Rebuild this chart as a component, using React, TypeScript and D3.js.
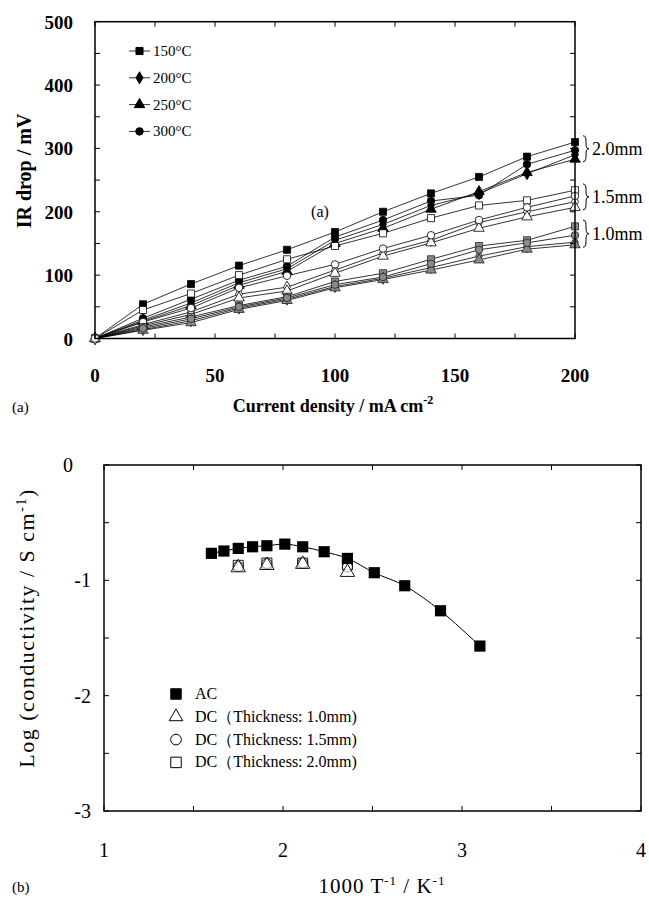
import React from 'react';
import * as d3 from 'd3';

// ---------- Chart (a): IR drop vs current density ----------
const currentDensity = [0, 20, 40, 60, 80, 100, 120, 140, 160, 180, 200];
const temperatures = ['150°C', '200°C', '250°C', '300°C'];

// thickness 2.0 mm (filled markers)
const t20_150 = [0, 54, 86, 115, 140, 168, 200, 229, 255, 287, 310];
const t20_200 = [0, 29, 56, 88, 110, 155, 180, 210, 229, 260, 290];
const t20_250 = [0, 27, 52, 84, 106, 150, 174, 204, 232, 262, 283];
const t20_300 = [0, 32, 62, 92, 114, 160, 187, 217, 226, 275, 297];
// thickness 1.5 mm (open markers)
const t15_150 = [0, 45, 71, 100, 125, 146, 166, 190, 210, 218, 234];
const t15_200 = [0, 22, 42, 70, 81, 108, 135, 155, 183, 200, 216];
const t15_250 = [0, 20, 38, 64, 75, 103, 130, 151, 174, 192, 207];
const t15_300 = [0, 26, 48, 80, 99, 117, 142, 163, 187, 207, 225];
// thickness 1.0 mm (grey markers)
const t10_150 = [0, 18, 34, 52, 66, 90, 103, 125, 146, 155, 177];
const t10_200 = [0, 14, 28, 48, 62, 82, 95, 112, 130, 145, 152];
const t10_250 = [0, 13, 25, 46, 60, 80, 93, 108, 124, 141, 148];
const t10_300 = [0, 16, 31, 50, 64, 85, 97, 118, 140, 151, 163];

const xTicksA = [0, 50, 100, 150, 200];
const yTicksA = [0, 100, 200, 300, 400, 500];

// ---------- Chart (b): Arrhenius plot ----------
const acInvT = [1.60, 1.67, 1.75, 1.83, 1.91, 2.01, 2.11, 2.23, 2.36, 2.51, 2.68, 2.88, 3.10];
const acLogSigma = [-0.766, -0.746, -0.723, -0.709, -0.700, -0.686, -0.709, -0.752, -0.810, -0.934, -1.047, -1.264, -1.570];
const dcInvT = [1.75, 1.91, 2.11, 2.36];
const dc10LogSigma = [-0.89, -0.87, -0.86, -0.93];
const dc15LogSigma = [-0.88, -0.855, -0.85, -0.885];
const dc20LogSigma = [-0.87, -0.85, -0.85, -0.865];
const legendB = ['AC', 'DC（Thickness: 1.0mm)', 'DC（Thickness: 1.5mm)', 'DC（Thickness: 2.0mm)'];

const xTicksB = [1, 2, 3, 4];
const yTicksB = [0, -1, -2, -3];

const SERIF = "'Liberation Serif', 'DejaVu Serif', 'Times New Roman', serif";

const symType: Record<string, d3.SymbolType> = {
  '150°C': d3.symbolSquare,
  '200°C': d3.symbolDiamond,
  '250°C': d3.symbolTriangle,
  '300°C': d3.symbolCircle,
};
const symSize: Record<string, number> = {
  '150°C': 50,
  '200°C': 42,
  '250°C': 48,
  '300°C': 44,
};

function brace(x: number, y1: number, y2: number, w: number) {
  const m = (y1 + y2) / 2;
  return `M${x},${y1} C${x + w},${y1} ${x},${m} ${x + w},${m} C${x},${m} ${x + w},${y2} ${x},${y2}`;
}

const bold = { fontFamily: SERIF, fontWeight: 700 } as React.CSSProperties;
const reg = { fontFamily: SERIF, fontWeight: 400 } as React.CSSProperties;

function ChartA() {
  const x = d3.scaleLinear().domain([0, 200]).range([95, 575]);
  const y = d3.scaleLinear().domain([0, 500]).range([338.5, 21.7]);
  const line = d3.line<number>().x((_, i) => x(currentDensity[i])).y((d) => y(d));

  const groups = [
    { th: '2.0mm', fill: '#000', stroke: '#000', data: { '150°C': t20_150, '200°C': t20_200, '250°C': t20_250, '300°C': t20_300 } },
    { th: '1.5mm', fill: '#fff', stroke: '#000', data: { '150°C': t15_150, '200°C': t15_200, '250°C': t15_250, '300°C': t15_300 } },
    { th: '1.0mm', fill: '#8a8a8a', stroke: '#222', data: { '150°C': t10_150, '200°C': t10_200, '250°C': t10_250, '300°C': t10_300 } },
  ];

  const xMinor = d3.range(0, 201, 25);
  const yMinor = d3.range(0, 501, 50);
  const [x0, x1] = x.range();
  const [y0, y1] = y.range();
  const tl = 5;

  return (
    <g>
      {groups.map((g) =>
        temperatures.map((t) => (
          <path key={g.th + t} d={line((g.data as any)[t]) || ''} fill="none" stroke="#000" strokeWidth={0.8} />
        ))
      )}
      {groups.map((g) =>
        temperatures.map((t) =>
          ((g.data as any)[t] as number[]).map((v, i) => (
            <path
              key={g.th + t + i}
              d={d3.symbol().type(symType[t]).size(symSize[t])() || ''}
              transform={`translate(${x(currentDensity[i])},${y(v)})`}
              fill={i === 0 ? '#fff' : g.fill}
              stroke={g.stroke}
              strokeWidth={0.8}
            />
          ))
        )
      )}
      <rect x={x0} y={y1} width={x1 - x0} height={y0 - y1} fill="none" stroke="#000" strokeWidth={1.5} />
      {xMinor.map((v) => (
        <g key={'xm' + v}>
          <line x1={x(v)} x2={x(v)} y1={y0} y2={y0 - tl} stroke="#000" strokeWidth={1} />
          <line x1={x(v)} x2={x(v)} y1={y1} y2={y1 + tl} stroke="#000" strokeWidth={1} />
        </g>
      ))}
      {yMinor.map((v) => (
        <g key={'ym' + v}>
          <line x1={x0} x2={x0 + tl} y1={y(v)} y2={y(v)} stroke="#000" strokeWidth={1} />
          <line x1={x1} x2={x1 - tl} y1={y(v)} y2={y(v)} stroke="#000" strokeWidth={1} />
        </g>
      ))}
      {xTicksA.map((v) => (
        <text key={'xl' + v} x={x(v)} y={382} textAnchor="middle" style={bold} fontSize={19}>
          {v}
        </text>
      ))}
      {yTicksA.map((v) => (
        <text key={'yl' + v} x={73} y={y(v) + 7} textAnchor="end" style={bold} fontSize={19}>
          {v}
        </text>
      ))}
      <text x={333} y={412} textAnchor="middle" style={bold} fontSize={18}>
        Current density / mA cm<tspan dy={-8} fontSize={12}>-2</tspan>
      </text>
      <text x={12} y={412} style={reg} fontSize={15}>(a)</text>
      <text transform={`translate(31,171) rotate(-90)`} textAnchor="middle" style={bold} fontSize={20}>
        IR drop / mV
      </text>
      <text x={320} y={217} textAnchor="middle" style={reg} fontSize={16}>(a)</text>
      {temperatures.map((t, i) => {
        const ly = 51 + i * 26.8;
        return (
          <g key={'lg' + t}>
            <line x1={129} x2={150} y1={ly} y2={ly} stroke="#000" strokeWidth={0.8} />
            <path d={d3.symbol().type(symType[t]).size(symSize[t])() || ''} transform={`translate(139.5,${ly})`} fill="#000" stroke="#000" />
            <text x={153} y={ly + 5} style={reg} fontSize={15}>{t}</text>
          </g>
        );
      })}
      {groups.map((g) => {
        const vals = temperatures.map((t) => ((g.data as any)[t] as number[])[currentDensity.length - 1]);
        const top = y((d3.max(vals) as number) + 10);
        const bot = y((d3.min(vals) as number) - 4);
        return (
          <g key={'br' + g.th}>
            <path d={brace(x1 + 8, top, bot, 6)} fill="none" stroke="#000" strokeWidth={1} />
            <text x={x1 + 17} y={(top + bot) / 2 + 6} style={reg} fontSize={18}>{g.th}</text>
          </g>
        );
      })}
    </g>
  );
}

function ChartB() {
  const x = d3.scaleLinear().domain([1, 4]).range([104, 641]);
  const y = d3.scaleLinear().domain([-3, 0]).range([811, 465]);
  const [x0, x1] = x.range();
  const [y0, y1] = y.range();
  const tl = 5;
  const acLine = d3
    .line<number>()
    .x((_, i) => x(acInvT[i]))
    .y((d) => y(d))
    .curve(d3.curveCatmullRom);
  const xMinor = d3.range(1, 4.01, 0.5);
  const yMinor = d3.range(-3, 0.01, 0.5);
  const dcSeries = [
    { name: legendB[3], vals: dc20LogSigma, type: d3.symbolSquare, size: 100 },
    { name: legendB[2], vals: dc15LogSigma, type: d3.symbolCircle, size: 80 },
    { name: legendB[1], vals: dc10LogSigma, type: d3.symbolTriangle, size: 90 },
  ];
  const legendSyms = [
    { type: d3.symbolSquare, size: 110, fill: '#000' },
    { type: d3.symbolTriangle, size: 80, fill: 'none' },
    { type: d3.symbolCircle, size: 90, fill: 'none' },
    { type: d3.symbolSquare, size: 110, fill: 'none' },
  ];
  return (
    <g>
      <path d={acLine(acLogSigma) || ''} fill="none" stroke="#000" strokeWidth={1} />
      {dcSeries.map((s) =>
        s.vals.map((v, i) => (
          <path
            key={s.name + i}
            d={d3.symbol().type(s.type).size(s.size)() || ''}
            transform={`translate(${x(dcInvT[i])},${y(v)})`}
            fill="#fff"
            fillOpacity={0.6}
            stroke="#000"
            strokeWidth={0.9}
          />
        ))
      )}
      {acLogSigma.map((v, i) => (
        <path
          key={'ac' + i}
          d={d3.symbol().type(d3.symbolSquare).size(125)() || ''}
          transform={`translate(${x(acInvT[i])},${y(v)})`}
          fill="#000"
        />
      ))}
      <rect x={x0} y={y1} width={x1 - x0} height={y0 - y1} fill="none" stroke="#000" strokeWidth={1.5} />
      {xMinor.map((v) => (
        <g key={'bxm' + v}>
          <line x1={x(v)} x2={x(v)} y1={y0} y2={y0 - tl} stroke="#000" strokeWidth={1} />
          <line x1={x(v)} x2={x(v)} y1={y1} y2={y1 + tl} stroke="#000" strokeWidth={1} />
        </g>
      ))}
      {yMinor.map((v) => (
        <g key={'bym' + v}>
          <line x1={x0} x2={x0 + tl} y1={y(v)} y2={y(v)} stroke="#000" strokeWidth={1} />
          <line x1={x1} x2={x1 - tl} y1={y(v)} y2={y(v)} stroke="#000" strokeWidth={1} />
        </g>
      ))}
      {xTicksB.map((v) => (
        <text key={'bxl' + v} x={x(v)} y={857} textAnchor="middle" style={reg} fontSize={20}>
          {v}
        </text>
      ))}
      {yTicksB.map((v) => (
        <text key={'byl' + v} x={v === 0 ? 73 : 91} y={y(v) + 7} textAnchor="end" style={reg} fontSize={20}>
          {v}
        </text>
      ))}
      <text x={382} y={893} textAnchor="middle" style={reg} fontSize={21} letterSpacing={1}>
        1000 T<tspan dy={-8} fontSize={13}>-1</tspan><tspan dy={8}> / K</tspan><tspan dy={-8} fontSize={13}>-1</tspan>
      </text>
      <text x={12} y={892} style={reg} fontSize={15}>(b)</text>
      <text transform={`translate(34,628) rotate(-90)`} textAnchor="middle" style={reg} fontSize={22} letterSpacing={1.5}>
        Log (conductivity / S cm<tspan dy={-8} fontSize={14}>-1</tspan><tspan dy={8}>)</tspan>
      </text>
      {legendB.map((name, i) => {
        const ly = 694 + i * 22.8;
        const s = legendSyms[i];
        return (
          <g key={'lgb' + i}>
            <path d={d3.symbol().type(s.type).size(s.size)() || ''} transform={`translate(176,${ly})`} fill={s.fill} stroke="#000" strokeWidth={1} />
            <text x={195} y={ly + 5} style={reg} fontSize={16}>{name}</text>
          </g>
        );
      })}
    </g>
  );
}

export default function App() {
  return (
    <svg
      width={649}
      height={900}
      viewBox="0 0 649 900"
      style={{ position: 'absolute', left: 0, top: 0, background: '#fff', fontFamily: SERIF }}
    >
      <rect width={649} height={900} fill="#fff" />
      <ChartA />
      <ChartB />
    </svg>
  );
}
